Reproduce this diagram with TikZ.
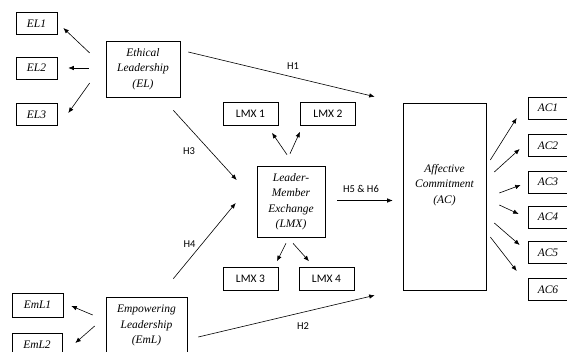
\documentclass[tikz,border=0pt]{standalone}
\usepackage{fontspec}
\setmainfont{Liberation Serif}
\newfontfamily\serifit{Liberation Serif}
\newfontfamily\calibri{Carlito}
\usetikzlibrary{arrows.meta}

\begin{document}
\begin{tikzpicture}[
	x=1pt, y=-1pt,
  > = {Latex[length=5.5pt,width=4.5pt]},
  line width=0.6pt,
  box/.style = {draw,align=center,inner sep=0pt,font=\fontsize{11.5}{15.5}\selectfont\serifit\itshape},
  item/.style = {draw,inner sep=0pt,minimum width=41pt,minimum height=22pt,font=\fontsize{11.5}{14}\selectfont\serifit\itshape},
  lmxitem/.style = {draw,inner sep=0pt,minimum width=55pt,minimum height=23pt,font=\fontsize{11.5}{13}\selectfont\calibri},
  hyp/.style = {inner sep=0pt,font=\fontsize{10.5}{12}\selectfont\calibri}
  ]
	\clip (0,0) rectangle (567,352);

	% constructs
	\node[box,minimum width=74pt,minimum height=56pt] (el) at (143,69) {Ethical\\Leadership\\(EL)};
	\node[box,minimum width=68pt,minimum height=71pt] (lmx) at (291,201.5) {Leader-\\Member\\Exchange\\(LMX)};
	\node[box,minimum width=83pt,minimum height=187pt] (ac) at (444.5,196.5) {Affective\\Commitment\\(AC)\\[10pt]};
	\node[box,minimum width=81pt,minimum height=57pt] (eml) at (146.5,325.5) {Empowering\\Leadership\\(EmL)};

	% items
	\node[item] (el1) at (36.5,23.5) {EL1};
	\node[item] (el2) at (36.5,68) {EL2};
	\node[item] (el3) at (36.5,114.5) {EL3};
	\node[item,minimum width=51pt,minimum height=24pt] (eml1) at (37.5,305) {EmL1};
	\node[item,minimum width=50pt,minimum height=23pt] (eml2) at (37,345) {EmL2};

	\node[lmxitem] (lmx1) at (250.5,114) {LMX 1};
	\node[lmxitem] (lmx2) at (328,114) {LMX 2};
	\node[lmxitem] (lmx3) at (250.5,279) {LMX 3};
	\node[lmxitem] (lmx4) at (326.5,279) {LMX 4};

	\node[item,minimum width=40pt] (ac1) at (548,108) {AC1};
	\node[item,minimum width=40pt] (ac2) at (548,145.5) {AC2};
	\node[item,minimum width=40pt] (ac3) at (548,182) {AC3};
	\node[item,minimum width=40pt] (ac4) at (548,217) {AC4};
	\node[item,minimum width=40pt] (ac5) at (548,252.5) {AC5};
	\node[item,minimum width=40pt] (ac6) at (548,289.5) {AC6};

	% measurement arrows
	\draw[->] ([shift={(-16,-16)}]el.west) -- ([shift={(6,4.5)}]el1.east);
	\draw[->] ([shift={(-17,-1)}]el.west) -- ([shift={(11,0)}]el2.east);
	\draw[->] ([shift={(-16,14)}]el.west) -- ([shift={(11,-1.5)}]el3.east);

	\draw[->] ([shift={(-13,-10.5)}]eml.west) -- ([shift={(8,1)}]eml1.east);
	\draw[->] ([shift={(-11,0.5)}]eml.west) -- ([shift={(13,-2)}]eml2.east);

	\draw[->] ([shift={(-4,-11)}]lmx.north) -- ([shift={(21.5,7)}]lmx1.south);
	\draw[->] ([shift={(-1,-12)}]lmx.north) -- ([shift={(-28,6)}]lmx2.south);
	\draw[->] ([shift={(-5,6)}]lmx.south) -- ([shift={(26.5,-6)}]lmx3.north);
	\draw[->] ([shift={(2,6)}]lmx.south) -- ([shift={(-17.5,-6)}]lmx4.north);

	\draw[->] ([shift={(4,-36.5)}]ac.east) -- ([shift={(-11,10)}]ac1.west);
	\draw[->] ([shift={(8,-24.5)}]ac.east) -- ([shift={(-8,3.5)}]ac2.west);
	\draw[->] ([shift={(13,-3.5)}]ac.east) -- ([shift={(-7,3)}]ac3.west);
	\draw[->] ([shift={(13,8.5)}]ac.east) -- ([shift={(-9,-3)}]ac4.west);
	\draw[->] ([shift={(8,26.5)}]ac.east) -- ([shift={(-8,-7.5)}]ac5.west);
	\draw[->] ([shift={(4,40.5)}]ac.east) -- ([shift={(-11,-18.5)}]ac6.west);

	% hypotheses
	\draw[->] ([shift={(8,-17)}]el.east) -- ([shift={(-28,-6)}]ac.north west);
	\draw[->] ([shift={(-7,13)}]el.south east) -- ([shift={(-20,-21.5)}]lmx.west);
	\draw[->] ([shift={(-14,-18)}]eml.north east) -- ([shift={(-21,1.5)}]lmx.west);
	\draw[->] ([shift={(12,-1)}]lmx.east) -- ([shift={(-10,4)}]ac.west);
	\draw[->] ([shift={(11,11.5)}]eml.east) -- ([shift={(-28,5)}]ac.south west);

	\node[hyp] (h1) at (293,66) {H1};
	\node[hyp] (h2) at (303,326) {H2};
	\node[hyp] (h3) at (189,151) {H3};
	\node[hyp] (h4) at (189.5,244) {H4};
	\node[hyp] (h56) at (361,189) {H5 \& H6};

\end{tikzpicture}
\end{document}
